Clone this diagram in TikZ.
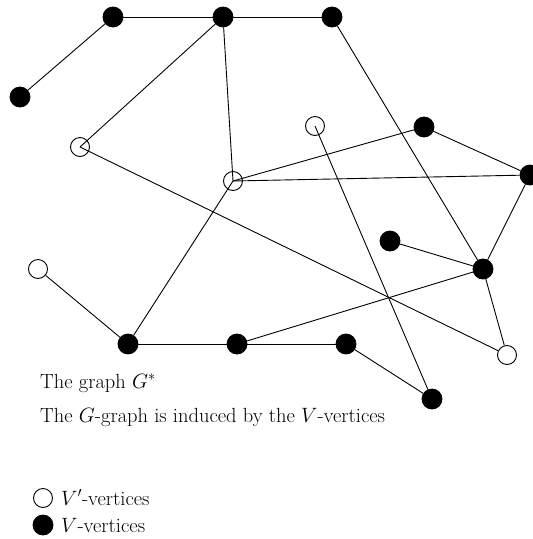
\documentclass[tikz,border=0pt]{standalone}
\begin{document}
\begin{tikzpicture}[x=1pt,y=-1pt,
  vfill/.style={circle,fill=black,draw=black,line width=0.8pt,minimum size=20pt,inner sep=0pt},
  vopen/.style={circle,draw=black,line width=0.9pt,minimum size=19pt,inner sep=0pt},
  edge/.style={line width=0.9pt},
  lbl/.style={anchor=base west,inner sep=0pt,font=\fontsize{20.5}{24}\selectfont}]
\useasboundingbox (0,0) rectangle (533,539);
% vertices
\node[vfill] (A) at (113,17) {};
\node[vfill] (B) at (223,17) {};
\node[vfill] (C) at (332,17) {};
\node[vfill] (D) at (20,97) {};
\node[vopen] (a) at (80,147) {};
\node[vopen] (b) at (315,126) {};
\node[vopen] (c) at (233,181) {};
\node[vfill] (E) at (424,127) {};
\node[vfill] (F) at (530,175) {};
\node[vfill] (G) at (390,241) {};
\node[vfill] (H) at (483,269) {};
\node[vopen] (d) at (38,269) {};
\node[vfill] (I) at (128,344) {};
\node[vfill] (J) at (237,344) {};
\node[vfill] (K) at (346,344) {};
\node[vfill] (L) at (432,399) {};
\node[vopen] (e) at (507,355) {};
% edges
\draw[edge] (A) -- (B) -- (C);
\draw[edge] (A) -- (D);
\draw[edge] (B) -- (a.center);
\draw[edge] (B) -- (c.center);
\draw[edge] (C) -- (H);
\draw[edge] (a.center) -- (e);
\draw[edge] (b.center) -- (L);
\draw[edge] (c.center) -- (E);
\draw[edge] (c.center) -- (F);
\draw[edge] (c.center) -- (I);
\draw[edge] (E) -- (F);
\draw[edge] (F) -- (H);
\draw[edge] (G) -- (H);
\draw[edge] (H) -- (e);
\draw[edge] (H) -- (J);
\draw[edge] (d) -- (I);
\draw[edge] (I) -- (J) -- (K);
\draw[edge] (K) -- (L);
% texts
\node[lbl] (t1) at (40,388) {The graph $G^{*}$};
\node[lbl] (t2) at (40,422) {The $G$-graph is induced by the $V$-vertices};
% legend
\node[vopen] (l1) at (43,498) {};
\node[vfill] (l2) at (43,525) {};
\node[lbl] (l1t) at (61,505) {$V'$-vertices};
\node[lbl] (l2t) at (61,532) {$V$-vertices};
\end{tikzpicture}
\end{document}
